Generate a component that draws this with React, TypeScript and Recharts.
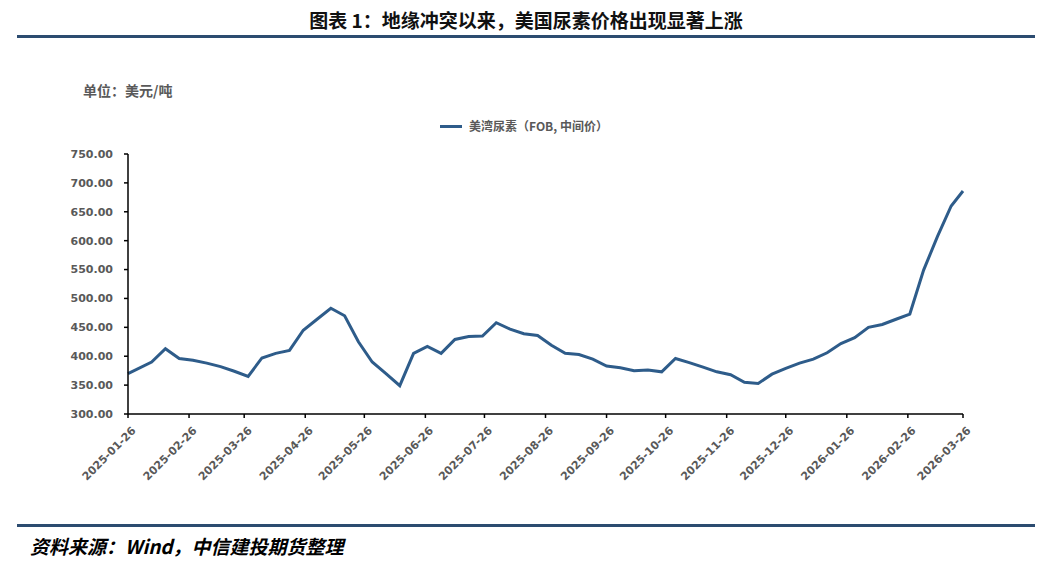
import { LineChart, Line, XAxis, YAxis } from 'recharts';

// ─── Data (美湾尿素 FOB 中间价, 美元/吨) ─────────────────────────────────────

const dates = [
  '2025-01-26', '2025-02-07', '2025-02-14', '2025-02-21', '2025-02-28',
  '2025-03-07', '2025-03-14', '2025-03-21', '2025-03-28', '2025-04-04',
  '2025-04-11', '2025-04-18', '2025-04-25', '2025-05-02', '2025-05-09',
  '2025-05-16', '2025-05-23', '2025-05-30', '2025-06-06', '2025-06-13',
  '2025-06-20', '2025-06-27', '2025-07-04', '2025-07-11', '2025-07-18',
  '2025-07-25', '2025-08-01', '2025-08-08', '2025-08-15', '2025-08-22',
  '2025-08-29', '2025-09-05', '2025-09-12', '2025-09-19', '2025-09-26',
  '2025-10-03', '2025-10-10', '2025-10-17', '2025-10-24', '2025-10-31',
  '2025-11-07', '2025-11-14', '2025-11-21', '2025-11-28', '2025-12-05',
  '2025-12-12', '2025-12-19', '2025-12-26', '2026-01-02', '2026-01-09',
  '2026-01-16', '2026-01-23', '2026-01-30', '2026-02-06', '2026-02-13',
  '2026-02-20', '2026-02-27', '2026-03-06', '2026-03-13', '2026-03-20',
  '2026-03-26',
];

const prices = [
  370, 390, 413, 396, 393, 388, 382, 374, 365, 397,
  405, 410, 445, 464, 483, 470, 425, 390, 370, 349,
  405, 417, 405, 429, 434, 435, 458, 447, 439, 436,
  419, 405, 403, 395, 383, 380, 375, 376, 373, 396,
  389, 381, 373, 368, 355, 353, 369, 379, 388, 395,
  406, 422, 432, 450, 455, 464, 473, 549, 607, 660,
  686,
];

const xTickLabels = [
  '2025-01-26', '2025-02-26', '2025-03-26', '2025-04-26', '2025-05-26',
  '2025-06-26', '2025-07-26', '2025-08-26', '2025-09-26', '2025-10-26',
  '2025-11-26', '2025-12-26', '2026-01-26', '2026-02-26', '2026-03-26',
];

const yTicks = [300, 350, 400, 450, 500, 550, 600, 650, 700, 750];

const SERIES_NAME = '美湾尿素（FOB, 中间价）';
const LINE_COLOR = '#2E5C8A';
const RULE_COLOR = '#2C4C70';
const LABEL_COLOR = '#595959';
const CJK = '"Noto Sans CJK SC", "Noto Sans", sans-serif';
const NUM = '"DejaVu Sans", sans-serif';

const DAY = 86400000;
const toDay = (s: string) => Date.parse(s) / DAY;
const fmtDay = (d: number) => new Date(Math.round(d) * DAY).toISOString().slice(0, 10);

const data = dates.map((d, i) => ({ t: toDay(d), price: prices[i] }));
const xTicks = xTickLabels.map(toDay);

// ─── Rotated date tick ────────────────────────────────────────────────────────

function DateTick(props: any) {
  const { x = 0, y = 0, payload } = props;
  return (
    <g transform={`translate(${x},${y})`}>
      <text
        x={-2}
        y={14}
        textAnchor="end"
        transform="rotate(-45)"
        fill={LABEL_COLOR}
        fontSize={11}
        fontWeight={700}
        fontFamily={NUM}
      >
        {fmtDay(payload.value)}
      </text>
    </g>
  );
}

// ─── Component ────────────────────────────────────────────────────────────────

export default function App() {
  return (
    <div style={{ position: 'absolute', left: 0, top: 0, width: 1052, height: 567, background: '#fff' }}>
      <div
        style={{
          position: 'absolute', left: 0, top: 7, width: 1052, textAlign: 'center',
          fontFamily: CJK, fontSize: 19, fontWeight: 700, color: '#111', lineHeight: '26px',
        }}
      >
        图表 1：地缘冲突以来，美国尿素价格出现显著上涨
      </div>
      <div style={{ position: 'absolute', left: 17, top: 35, width: 1018, height: 3, background: RULE_COLOR }} />

      <div
        style={{
          position: 'absolute', left: 83, top: 81, fontFamily: CJK, fontSize: 14,
          fontWeight: 700, color: LABEL_COLOR, lineHeight: '19px',
        }}
      >
        单位：美元/吨
      </div>

      <div
        style={{
          position: 'absolute', left: 440, top: 117, display: 'flex', alignItems: 'center',
          fontFamily: CJK, fontSize: 12, fontWeight: 700, color: LABEL_COLOR, lineHeight: '18px',
        }}
      >
        <span style={{ display: 'inline-block', width: 22, height: 3, background: LINE_COLOR, marginRight: 7 }} />
        {SERIES_NAME}
      </div>

      <div style={{ position: 'absolute', left: 0, top: 0 }}>
        <LineChart width={1052} height={567} data={data} margin={{ top: 154, right: 89, bottom: 73, left: 0 }}>
          <XAxis
            dataKey="t"
            type="number"
            domain={[xTicks[0], xTicks[xTicks.length - 1]]}
            ticks={xTicks}
            interval={0}
            height={80}
            axisLine={{ stroke: '#000', strokeWidth: 1.5 }}
            tickLine={{ stroke: '#000', strokeWidth: 1.5 }}
            tickSize={4}
            tick={<DateTick />}
          />
          <YAxis
            type="number"
            domain={[300, 750]}
            ticks={yTicks}
            interval={0}
            width={128}
            axisLine={{ stroke: '#000', strokeWidth: 1.5 }}
            tickLine={{ stroke: '#000', strokeWidth: 1.5 }}
            tickSize={4}
            tickMargin={11}
            tickFormatter={(v: number) => v.toFixed(2)}
            tick={{ fill: LABEL_COLOR, fontSize: 11, fontWeight: 700, fontFamily: NUM }}
          />
          <Line
            type="linear"
            dataKey="price"
            name={SERIES_NAME}
            stroke={LINE_COLOR}
            strokeWidth={3}
            dot={false}
            isAnimationActive={false}
          />
        </LineChart>
      </div>

      <div style={{ position: 'absolute', left: 17, top: 524, width: 1018, height: 3, background: RULE_COLOR }} />
      <div
        style={{
          position: 'absolute', left: 30, top: 533, fontFamily: CJK, fontSize: 19,
          fontWeight: 700, fontStyle: 'italic', color: '#000', lineHeight: '25px',
        }}
      >
        资料来源：Wind，中信建投期货整理
      </div>
    </div>
  );
}
